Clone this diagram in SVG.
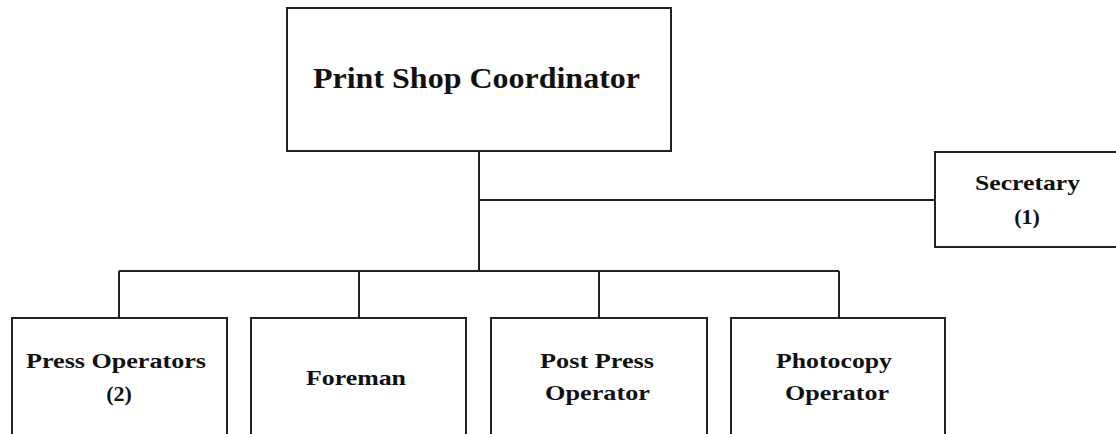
<svg xmlns="http://www.w3.org/2000/svg" width="1116" height="434" viewBox="0 0 1116 434">
<style>
.box{fill:#fff;stroke:#222;stroke-width:2}
.ln{fill:none;stroke:#222;stroke-width:2}
.t{font-family:"Liberation Serif","Times New Roman",serif;font-weight:bold;fill:#111;font-size:22px}
.big{font-size:29px}
</style>
<rect width="1116" height="434" fill="#fff"/>
<g id="connectors">
<path class="ln" d="M479 151V271M479 200H935M119 271H839M119 271V318M359 271V318M599 271V318M839 271V318"/>
</g>
<g id="coordinator">
<rect class="box" x="287" y="8" width="384" height="143"/>
<text class="t big" x="313" y="88" textLength="327" lengthAdjust="spacingAndGlyphs">Print Shop Coordinator</text>
</g>
<g id="secretary">
<rect class="box" x="935" y="152" width="190" height="95"/>
<text class="t" x="975" y="190" textLength="105" lengthAdjust="spacingAndGlyphs">Secretary</text>
<text class="t" x="1027" y="224" text-anchor="middle">(1)</text>
</g>
<g id="press-operators">
<rect class="box" x="12" y="318" width="215" height="130"/>
<text class="t" x="26" y="368" textLength="180" lengthAdjust="spacingAndGlyphs">Press Operators</text>
<text class="t" x="119" y="401" text-anchor="middle">(2)</text>
</g>
<g id="foreman">
<rect class="box" x="251" y="318" width="215" height="130"/>
<text class="t" x="306" y="385" textLength="100" lengthAdjust="spacingAndGlyphs">Foreman</text>
</g>
<g id="post-press-operator">
<rect class="box" x="491" y="318" width="216" height="130"/>
<text class="t" x="540" y="368" textLength="114" lengthAdjust="spacingAndGlyphs">Post Press</text>
<text class="t" x="545" y="400" textLength="105" lengthAdjust="spacingAndGlyphs">Operator</text>
</g>
<g id="photocopy-operator">
<rect class="box" x="731" y="318" width="214" height="130"/>
<text class="t" x="776" y="368" textLength="116" lengthAdjust="spacingAndGlyphs">Photocopy</text>
<text class="t" x="785" y="400" textLength="104" lengthAdjust="spacingAndGlyphs">Operator</text>
</g>
</svg>
